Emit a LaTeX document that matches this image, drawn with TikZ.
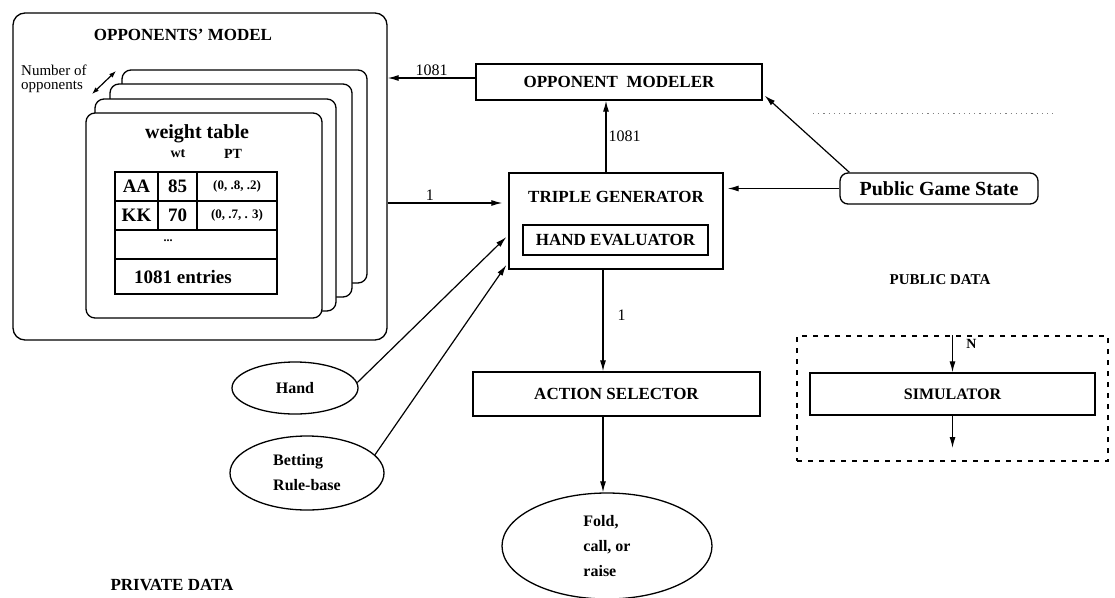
\documentclass[tikz,border=0pt]{standalone}
\usepackage{fontspec}
\setmainfont{Liberation Serif}
\usetikzlibrary{arrows.meta,shapes.geometric,calc}
\newcommand{\fsz}[2]{\fontsize{#1}{#2}\selectfont}
\begin{document}
\begin{tikzpicture}[x=1pt,y=-1pt,
  lw/.style={line width=1.3pt},
  blk/.style={draw,lw,inner sep=0pt,font=\bfseries\fsz{17}{20}},
  card/.style={draw,lw,rounded corners=9pt,fill=white,inner sep=0pt},
  cell/.style={draw,lw,inner sep=0pt,font=\bfseries\fsz{19}{22}},
  oval/.style={draw,lw,ellipse,inner sep=0pt,align=left,font=\bfseries\fsz{16}{25}},
  arr/.style={line width=1.2pt,-{Latex[length=11pt,width=6pt]}},
  lbl/.style={font=\fsz{16}{18},inner sep=2pt},
  txt/.style={inner sep=0pt},
]
\useasboundingbox (0,0) rectangle (1115,597);

% ---------- opponents' model ----------
\node[draw,lw,rounded corners=12pt,inner sep=0pt,minimum width=374pt,minimum height=327pt] (om) at (200,176.5) {};
\node[txt,font=\bfseries\fsz{17}{19}] (omt) at (183,35) {OPPONENTS’ MODEL};
\node[txt,font=\fsz{15}{14},align=left,anchor=west] (nop) at (21,79) {Number of\\opponents};
\coordinate (na) at (92,94);
\coordinate (nb) at (116,71);
\draw[line width=1.2pt,{Latex[length=7pt,width=5pt]}-{Latex[length=7pt,width=5pt]}] (na) -- (nb);

\node[card,minimum width=245pt,minimum height=213pt] (c4) at (244.5,176.5) {};
\node[card,minimum width=242pt,minimum height=213pt] (c3) at (231,190.5) {};
\node[card,minimum width=241pt,minimum height=212pt] (c2) at (215.5,205) {};
\node[card,minimum width=236pt,minimum height=205pt] (c1) at (204,215.5) {};

\node[txt,font=\bfseries\fsz{20}{22}] (wtab) at (197,134) {weight table};
\node[txt,font=\bfseries\fsz{14}{16}] (wt) at (178,154) {wt};
\node[txt,font=\bfseries\fsz{14}{16}] (pt) at (233,154) {PT};

\node[cell,minimum width=43pt,minimum height=29pt] (aa) at (136.5,186.5) {AA};
\node[cell,minimum width=39pt,minimum height=29pt] (aaw) at (177.5,186.5) {85};
\node[cell,minimum width=80pt,minimum height=29pt,font=\bfseries\fsz{13}{15}] (aap) at (237,186.5) {(0, .8, .2)};
\node[cell,minimum width=43pt,minimum height=29pt] (kk) at (136.5,215.5) {KK};
\node[cell,minimum width=39pt,minimum height=29pt] (kkw) at (177.5,215.5) {70};
\node[cell,minimum width=80pt,minimum height=29pt,font=\bfseries\fsz{13}{15}] (kkp) at (237,215.5) {(0, .7, . 3)};
\node[cell,minimum width=162pt,minimum height=29pt] (drow) at (196,244.5) {};
\node[txt,font=\bfseries\fsz{12}{14}] (dots) at (168,241) {...};
\node[cell,minimum width=162pt,minimum height=35pt] (erow) at (196,276.5) {};
\node[txt,font=\bfseries\fsz{19}{22}] (ent) at (183,277) {1081 entries};

% ---------- central blocks ----------
\node[blk,minimum width=286pt,minimum height=36pt] (mod) at (619,82) {OPPONENT\ \ MODELER};
\node[blk,minimum width=214pt,minimum height=96pt] (tg) at (616,221) {};
\node[txt,font=\bfseries\fsz{17}{20}] (tgt) at (616,197) {TRIPLE GENERATOR};
\node[blk,minimum width=185pt,minimum height=30pt] (he) at (615.5,240) {HAND EVALUATOR};
\node[blk,minimum width=287pt,minimum height=44pt] (as) at (616.5,394) {ACTION SELECTOR};
\node[oval,minimum width=210pt,minimum height=106pt] (fold) at (607,546) {Fold,\\call, or\\raise};

\node[oval,minimum width=126pt,minimum height=52pt] (hand) at (295,388) {Hand};
\node[oval,minimum width=154pt,minimum height=74pt] (bet) at (307,473) {Betting\\Rule-base};

% ---------- public side ----------
\node[draw,lw,rounded corners=8pt,inner sep=0pt,minimum width=198pt,minimum height=31pt,font=\bfseries\fsz{20}{22}] (pgs) at (939,188.5) {Public Game State};
\node[txt,font=\bfseries\fsz{15}{17}] (pub) at (940,280) {PUBLIC DATA};
\coordinate (dl1) at (813,113);
\coordinate (dl2) at (1057,113);
\draw[line width=0.9pt,gray,dash pattern=on 1.2pt off 4pt] (dl1) -- (dl2);

\node[draw,lw,dash pattern=on 5pt off 6pt,inner sep=0pt,minimum width=311pt,minimum height=125pt] (simarea) at (952.5,398.5) {};
\node[blk,minimum width=285pt,minimum height=42pt,font=\bfseries\fsz{16}{18}] (sim) at (952.5,394) {SIMULATOR};
\coordinate (simout) at (952.5,448);
\draw[arr] (simarea.north) -- node[pos=0.22,right=10pt,font=\bfseries\fsz{14}{16}] (nlab) {N} (sim.north);
\draw[arr] (sim.south) -- (simout);

\node[txt,font=\bfseries\fsz{17}{19}] (priv) at (172,585) {PRIVATE DATA};

% ---------- connectors ----------
\draw[arr] ([yshift=4pt]mod.west) -- node[above,lbl] (l1) {1081} ([yshift=4pt]mod.west -| om.east);
\draw[arr] ([xshift=-10pt]tg.north) -- node[right,lbl] (l2) {1081} ([xshift=-10pt]tg.north |- mod.south);
\draw[arr,shorten >=6pt] ([yshift=18pt]tg.west -| om.east) -- node[pos=0.35,above,lbl] (l3) {1} ([yshift=18pt]tg.west);
\draw[arr,shorten >=4pt] (pgs.west) -- (pgs.west -| tg.east);
\draw[arr] ([xshift=10pt]pgs.north west) -- ([xshift=2pt,yshift=5pt]mod.south east);
\draw[arr] ([xshift=-13pt]tg.south) -- node[pos=0.45,right=12pt,lbl] (l4) {1} ([xshift=-13pt]tg.south |- as.north);
\draw[arr] ([xshift=-13.5pt]as.south) -- ([xshift=-13.5pt]as.south |- fold.north);
\draw[arr] (hand.5) -- ([yshift=-16pt,xshift=-2pt]tg.west);
\draw[arr] (bet.15) -- ([yshift=-44pt,xshift=-2pt]tg.west);
\end{tikzpicture}
\end{document}
